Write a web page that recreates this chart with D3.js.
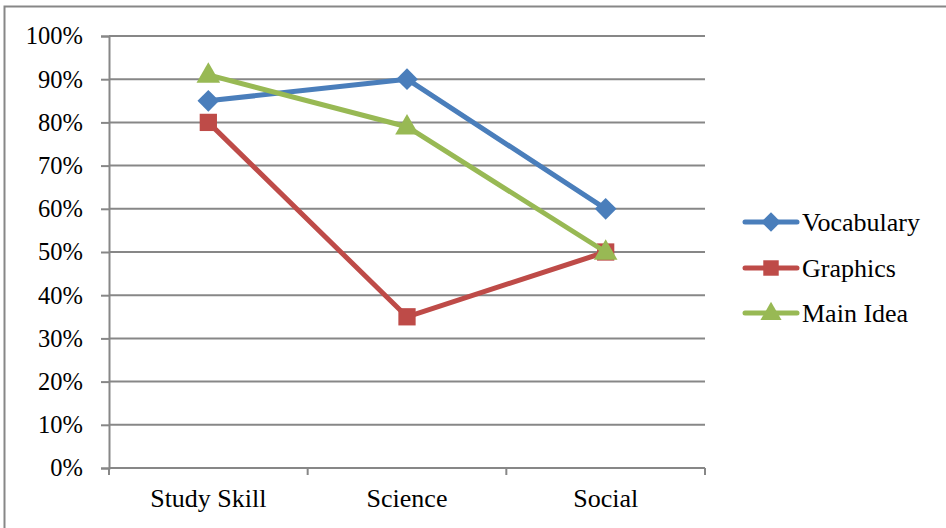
<!DOCTYPE html>
<html>
<head>
<meta charset="utf-8">
<script src="https://cdn.jsdelivr.net/npm/d3@7/dist/d3.min.js"></script>
<style>
  html, body { margin: 0; padding: 0; background: #fff; }
  svg { display: block; }
</style>
</head>
<body>
<svg id="chart" width="946" height="528"></svg>
<script>
// Share of correct answers by topic, per skill
const categories = ["Study Skill", "Science", "Social"];
const vocabulary = [85, 90, 60];
const graphics = [80, 35, 50];
const mainIdea = [91, 79, 50];
const yTicks = [0, 10, 20, 30, 40, 50, 60, 70, 80, 90, 100];

const series = [
  { name: "Vocabulary", values: vocabulary, color: "#4A7EBB", marker: "diamond" },
  { name: "Graphics", values: graphics, color: "#BE4B48", marker: "square" },
  { name: "Main Idea", values: mainIdea, color: "#98B954", marker: "triangle" }
];

const serif = '"Liberation Serif", "Times New Roman", serif';
const svg = d3.select("#chart").attr("font-family", serif);
const gridColor = "#878787";

// outer frame (right and bottom edges run past the page)
svg.append("rect")
  .attr("x", 4.5).attr("y", 6.5)
  .attr("width", 960).attr("height", 540)
  .attr("fill", "none").attr("stroke", gridColor).attr("stroke-width", 2);

const plot = { left: 109, right: 705, top: 36, bottom: 468 };

const x = d3.scaleBand().domain(categories).range([plot.left, plot.right]);
const y = d3.scaleLinear().domain([0, 100]).range([plot.bottom, plot.top]);

// horizontal gridlines
svg.append("g").selectAll("line").data(yTicks).join("line")
  .attr("x1", plot.left).attr("x2", plot.right)
  .attr("y1", d => y(d)).attr("y2", d => y(d))
  .attr("stroke", gridColor).attr("stroke-width", 2);

// y axis
const yAxis = svg.append("g")
  .attr("transform", `translate(${plot.left},0)`)
  .call(d3.axisLeft(y).tickValues(yTicks).tickFormat(d => d + "%").tickSize(8).tickPadding(18));
yAxis.attr("font-family", serif).attr("font-size", 24.5);
yAxis.select(".domain").attr("stroke", gridColor).attr("stroke-width", 2);
yAxis.selectAll(".tick line").attr("stroke", gridColor).attr("stroke-width", 2);
yAxis.selectAll("text").attr("fill", "#000");

// x axis: ticks at band boundaries
const xAxis = svg.append("g")
  .attr("transform", `translate(0,${plot.bottom})`)
  .call(d3.axisBottom(x).tickSize(0).tickPadding(21));
xAxis.attr("font-family", serif).attr("font-size", 26);
xAxis.select(".domain").remove();
xAxis.selectAll("text").attr("fill", "#000");
const bounds = categories.map(c => x(c)).concat([x(categories[categories.length - 1]) + x.bandwidth()]);
xAxis.selectAll("line.bound").data(bounds).join("line")
  .attr("class", "bound")
  .attr("x1", d => d).attr("x2", d => d)
  .attr("y1", 0).attr("y2", 7)
  .attr("stroke", gridColor).attr("stroke-width", 2);
xAxis.append("line")
  .attr("x1", plot.left).attr("x2", plot.right)
  .attr("stroke", gridColor).attr("stroke-width", 2);

const cx = c => x(c) + x.bandwidth() / 2;

const symbolFor = (m, scale) => {
  if (m === "diamond") return d3.symbol().type(d3.symbolDiamond2).size(300 * scale)();
  if (m === "square") return d3.symbol().type(d3.symbolSquare2).size(380 * scale)();
  return d3.symbol().type(d3.symbolTriangle2).size(400 * scale)();
};

const line = d3.line().x((d, i) => cx(categories[i])).y(d => y(d));

series.forEach(s => {
  const g = svg.append("g");
  g.append("path")
    .attr("d", line(s.values))
    .attr("fill", "none").attr("stroke", s.color)
    .attr("stroke-width", 5).attr("stroke-linejoin", "round").attr("stroke-linecap", "round");
  g.selectAll("path.pt").data(s.values).join("path")
    .attr("class", "pt")
    .attr("transform", (d, i) => `translate(${cx(categories[i])},${y(d) + (s.marker === "triangle" ? 1 : 0)})`)
    .attr("d", symbolFor(s.marker, 1))
    .attr("fill", s.color);
});

// legend
const legend = svg.append("g").attr("font-family", serif);
const legendY = [222, 268, 313];
series.forEach((s, i) => {
  const g = legend.append("g").attr("transform", `translate(0,${legendY[i]})`);
  g.append("line")
    .attr("x1", 745).attr("x2", 797)
    .attr("stroke", s.color).attr("stroke-width", 5).attr("stroke-linecap", "round");
  g.append("path")
    .attr("transform", `translate(771,${s.marker === "triangle" ? 1 : 0})`)
    .attr("d", symbolFor(s.marker, 0.8))
    .attr("fill", s.color);
  g.append("text")
    .attr("x", 802).attr("y", 0).attr("dy", "0.33em")
    .attr("font-size", 26)
    .text(s.name);
});
</script>
</body>
</html>
